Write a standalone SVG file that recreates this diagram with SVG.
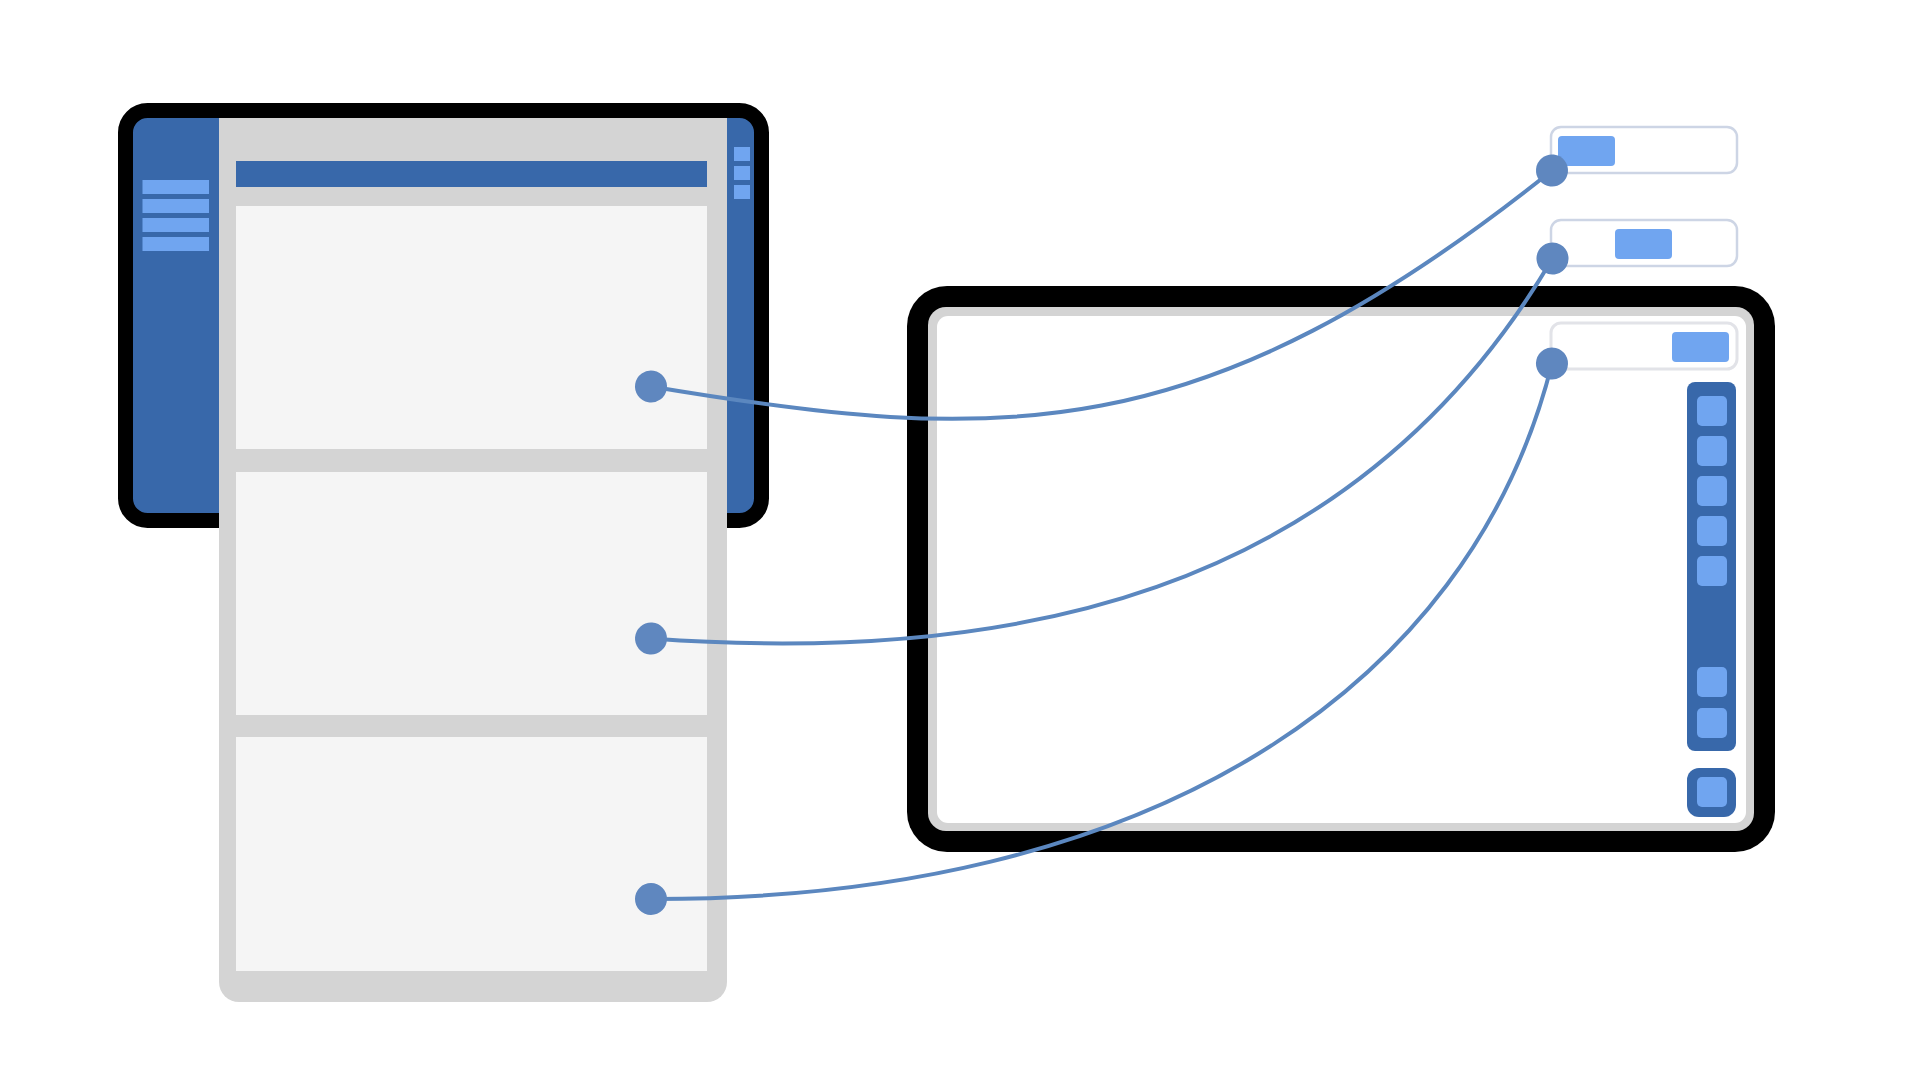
<svg xmlns="http://www.w3.org/2000/svg" width="1920" height="1080" viewBox="0 0 1920 1080">
  <defs>
    <style>
      .dark { fill: #3868aa; }
      .light { fill: #70a5f0; }
      .gray { fill: #d4d4d4; }
      .panel { fill: #f5f5f5; }
      .float { fill: #ffffff; stroke: #cdd5e5; stroke-width: 2.5; }
      .floatIn { fill: #ffffff; stroke: #e2e3e8; stroke-width: 3; }
      .conn { fill: none; stroke: #5b87bf; stroke-width: 4; stroke-linecap: round; }
    </style>
    <marker id="dot" viewBox="-17 -17 34 34" markerWidth="34" markerHeight="34" refX="0" refY="0" markerUnits="userSpaceOnUse" orient="auto">
      <circle cx="0" cy="0" r="16" fill="#5f87bf"/>
    </marker>
  </defs>
  <rect width="1920" height="1080" fill="#ffffff"/>

  <g id="left-device">
    <rect x="125.5" y="110.5" width="636" height="410" rx="22" ry="22" class="dark" stroke="#000000" stroke-width="15"/>
    <rect x="142.5" y="180" width="66.5" height="14" class="light"/>
    <rect x="142.5" y="199" width="66.5" height="14" class="light"/>
    <rect x="142.5" y="218" width="66.5" height="14" class="light"/>
    <rect x="142.5" y="237" width="66.5" height="14" class="light"/>
    <rect x="734" y="147" width="16" height="14" class="light"/>
    <rect x="734" y="166" width="16" height="14" class="light"/>
    <rect x="734" y="185" width="16" height="14" class="light"/>
  </g>

  <g id="page">
    <path d="M219,118 H727 V982 A20,20 0 0 1 707,1002 H239 A20,20 0 0 1 219,982 Z" class="gray"/>
    <rect x="236" y="161" width="471" height="26" class="dark"/>
    <rect x="236" y="206" width="471" height="243" class="panel"/>
    <rect x="236" y="472" width="471" height="243" class="panel"/>
    <rect x="236" y="737" width="471" height="234" class="panel"/>
  </g>

  <g id="right-device">
    <rect x="907" y="286" width="868" height="566" rx="40" ry="40" fill="#000000"/>
    <rect x="928" y="307" width="826" height="524" rx="18" ry="18" class="gray"/>
    <rect x="937" y="316" width="809" height="507" rx="11" ry="11" fill="#ffffff"/>
  </g>

  <g id="toolbar">
    <rect x="1687" y="382" width="49" height="369" rx="8" ry="8" class="dark"/>
    <rect x="1697" y="396" width="30" height="30" rx="5" class="light"/>
    <rect x="1697" y="436" width="30" height="30" rx="5" class="light"/>
    <rect x="1697" y="476" width="30" height="30" rx="5" class="light"/>
    <rect x="1697" y="516" width="30" height="30" rx="5" class="light"/>
    <rect x="1697" y="556" width="30" height="30" rx="5" class="light"/>
    <rect x="1697" y="667" width="30" height="30" rx="5" class="light"/>
    <rect x="1697" y="708" width="30" height="30" rx="5" class="light"/>
  </g>

  <g id="bottom-button">
    <rect x="1687" y="768" width="49" height="49" rx="12" ry="12" class="dark"/>
    <rect x="1697" y="777" width="30" height="30" rx="5" class="light"/>
  </g>

  <g id="float-a">
    <rect x="1551" y="127" width="186" height="46" rx="10" class="float"/>
    <rect x="1558" y="136" width="57" height="30" rx="4" class="light"/>
  </g>
  <g id="float-b">
    <rect x="1551" y="220" width="186" height="46" rx="10" class="float"/>
    <rect x="1615" y="229" width="57" height="30" rx="4" class="light"/>
  </g>
  <g id="float-c">
    <rect x="1551" y="323" width="186" height="46" rx="10" class="floatIn"/>
    <rect x="1672" y="332" width="57" height="30" rx="4" class="light"/>
  </g>

  <g id="connectors">
    <path class="conn" d="M651,386.5 C1001,445.3 1202,450.5 1552,170.5" marker-start="url(#dot)" marker-end="url(#dot)"/>
    <path class="conn" d="M651,638.5 C1000,664 1350,602 1552.5,258.5" marker-start="url(#dot)" marker-end="url(#dot)"/>
    <path class="conn" d="M651,899 C1150,900 1470,690 1552,363.5" marker-start="url(#dot)" marker-end="url(#dot)"/>
  </g>
</svg>
